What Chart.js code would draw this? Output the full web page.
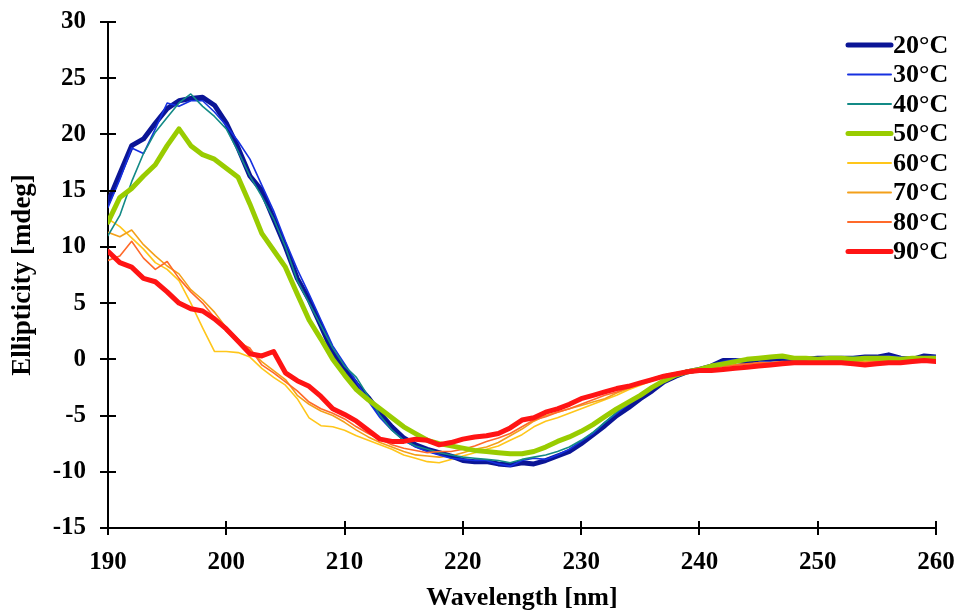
<!DOCTYPE html>
<html>
<head>
<meta charset="utf-8">
<script src="https://cdn.jsdelivr.net/npm/chart.js@4.4.1/dist/chart.umd.min.js"></script>
<style>
  html, body { margin: 0; padding: 0; background: #fff; }
</style>
</head>
<body>
<canvas id="cd" width="956" height="612"></canvas>
<script>
// wavelength grid, nm
var wavelength = [
  190,191,192,193,194,195,196,197,198,199,
  200,201,202,203,204,205,206,207,208,209,
  210,211,212,213,214,215,216,217,218,219,
  220,221,222,223,224,225,226,227,228,229,
  230,231,232,233,234,235,236,237,238,239,
  240,241,242,243,244,245,246,247,248,249,
  250,251,252,253,254,255,256,257,258,259,260
];

var temps = ["20°C", "30°C", "40°C", "50°C", "60°C", "70°C", "80°C", "90°C"];
var colors = ["#0b1596", "#1630e0", "#138a86", "#99cc00", "#ffc61a", "#f3a01a", "#ff6a2a", "#ff1414"];
var widths = [5, 1.6, 1.6, 5, 1.6, 1.6, 1.6, 5];

// ellipticity, mdeg
var t20 = [14.0,16.5,19.0,19.6,21.0,22.3,23.0,23.2,23.3,22.6,
  21.0,18.8,16.3,15.0,12.5,10.0,7.2,5.3,3.0,0.6,
  -0.8,-2.2,-3.4,-4.8,-6.0,-7.0,-7.6,-8.0,-8.3,-8.6,
  -9.0,-9.1,-9.1,-9.3,-9.4,-9.2,-9.3,-9.0,-8.6,-8.2,
  -7.5,-6.7,-5.9,-5.0,-4.3,-3.5,-2.8,-2.0,-1.5,-1.1,
  -0.9,-0.6,-0.1,-0.1,-0.2,0.0,0.0,0.1,0.0,0.0,
  0.1,0.1,0.1,0.1,0.2,0.2,0.4,0.1,0.0,0.3,0.2];
var t30 = [13.5,16.0,18.8,18.3,20.5,22.8,22.5,23.0,23.0,22.0,
  20.8,19.4,17.8,15.5,13.2,10.5,8.0,5.8,3.5,1.2,
  -0.4,-2.0,-3.7,-5.2,-6.3,-7.2,-7.8,-8.2,-8.5,-8.8,
  -8.9,-9.0,-9.0,-9.3,-9.5,-9.0,-8.8,-8.9,-8.5,-8.0,
  -7.3,-6.6,-5.6,-4.8,-4.0,-3.3,-2.6,-2.0,-1.4,-1.1,
  -0.9,-0.5,-0.2,0.0,-0.1,0.0,0.1,0.1,0.0,0.1,
  0.0,0.1,0.2,0.1,0.1,0.2,0.3,0.2,0.1,0.2,0.3];
var t40 = [11.0,12.8,15.8,18.3,20.2,21.5,22.8,23.6,22.5,21.6,
  20.5,18.5,16.3,14.5,12.5,10.0,7.0,5.0,3.0,1.0,
  -0.6,-1.6,-3.3,-5.0,-6.3,-7.2,-7.7,-8.0,-8.3,-8.5,
  -8.7,-8.8,-8.9,-9.0,-9.2,-8.9,-8.7,-8.5,-8.2,-7.8,
  -7.2,-6.5,-5.6,-4.7,-3.9,-3.2,-2.5,-2.0,-1.5,-1.1,
  -0.9,-0.6,-0.3,-0.1,-0.1,0.0,0.1,0.1,0.1,0.0,
  0.1,0.1,0.1,0.2,0.1,0.2,0.2,0.1,0.1,0.2,0.2];
var t50 = [12.2,14.4,15.2,16.3,17.3,19.0,20.5,19.0,18.2,17.8,
  17.0,16.2,13.8,11.2,9.7,8.2,5.8,3.5,1.8,0.0,
  -1.4,-2.7,-3.6,-4.4,-5.2,-6.0,-6.6,-7.2,-7.5,-7.7,
  -7.9,-8.1,-8.2,-8.3,-8.4,-8.4,-8.2,-7.8,-7.3,-6.9,
  -6.4,-5.8,-5.1,-4.4,-3.8,-3.2,-2.5,-1.9,-1.4,-1.1,
  -0.9,-0.6,-0.4,-0.2,0.0,0.1,0.2,0.3,0.1,0.1,
  0.0,0.1,0.1,0.0,0.1,0.1,0.1,0.0,0.1,0.1,0.1];
var t60 = [12.5,11.8,10.8,9.8,8.6,8.0,7.0,5.0,2.8,0.7,
  0.7,0.6,0.2,-0.8,-1.6,-2.3,-3.5,-5.2,-5.9,-6.0,
  -6.3,-6.8,-7.2,-7.6,-8.0,-8.5,-8.8,-9.1,-9.2,-8.9,
  -8.6,-8.3,-8.0,-7.7,-7.2,-6.7,-6.0,-5.5,-5.2,-4.8,
  -4.4,-4.0,-3.6,-3.2,-2.7,-2.3,-1.9,-1.6,-1.3,-1.1,
  -1.0,-0.8,-0.6,-0.5,-0.4,-0.3,-0.3,-0.2,-0.2,-0.2,
  -0.2,-0.2,-0.1,-0.2,-0.2,-0.1,-0.1,-0.1,-0.1,0.0,0.0];
var t70 = [11.3,10.9,11.5,10.2,9.2,8.3,7.6,6.2,5.3,4.2,
  2.8,1.8,0.8,-0.2,-1.0,-1.8,-3.2,-4.0,-4.6,-5.0,
  -5.6,-6.3,-6.9,-7.4,-7.8,-8.2,-8.5,-8.6,-8.7,-8.6,
  -8.3,-8.0,-7.8,-7.4,-6.8,-6.2,-5.5,-5.0,-4.7,-4.4,
  -4.1,-3.8,-3.5,-3.0,-2.6,-2.1,-1.7,-1.4,-1.2,-1.0,
  -1.0,-0.8,-0.6,-0.5,-0.4,-0.4,-0.3,-0.3,-0.2,-0.2,
  -0.2,-0.2,-0.3,-0.2,-0.2,-0.1,-0.1,-0.1,-0.1,0.0,-0.1];
var t80 = [8.8,9.2,10.5,9.0,8.0,8.7,7.2,6.0,5.0,3.7,
  2.5,1.5,1.0,-0.5,-1.2,-2.0,-2.8,-3.8,-4.4,-4.8,
  -5.3,-6.0,-6.6,-7.1,-7.6,-7.9,-8.1,-8.3,-8.2,-8.2,
  -8.0,-7.7,-7.3,-7.0,-6.6,-6.0,-5.4,-5.1,-4.7,-4.4,
  -4.0,-3.6,-3.2,-2.9,-2.5,-2.1,-1.7,-1.4,-1.2,-1.0,
  -0.9,-0.8,-0.6,-0.5,-0.4,-0.3,-0.3,-0.2,-0.2,-0.2,
  -0.2,-0.2,-0.2,-0.2,-0.3,-0.2,-0.1,-0.1,-0.1,-0.1,-0.1];
var t90 = [9.6,8.6,8.2,7.2,6.9,6.0,5.0,4.5,4.3,3.6,
  2.7,1.6,0.5,0.3,0.7,-1.2,-1.9,-2.4,-3.3,-4.4,
  -4.9,-5.5,-6.3,-7.1,-7.3,-7.3,-7.1,-7.2,-7.6,-7.4,
  -7.1,-6.9,-6.8,-6.6,-6.1,-5.4,-5.2,-4.7,-4.4,-4.0,
  -3.5,-3.2,-2.9,-2.6,-2.4,-2.1,-1.8,-1.5,-1.3,-1.1,
  -1.0,-1.0,-0.9,-0.8,-0.7,-0.6,-0.5,-0.4,-0.3,-0.3,
  -0.3,-0.3,-0.3,-0.4,-0.5,-0.4,-0.3,-0.3,-0.2,-0.1,-0.2];

var series = [t20, t30, t40, t50, t60, t70, t80, t90];
var drawOrder = [5, 4, 3, 1, 7, 6, 2, 0]; // lower = on top

var FONT = "'Liberation Serif', 'Times New Roman', serif";

var datasets = series.map(function(vals, i) {
  return {
    label: temps[i],
    data: vals.map(function(v, j) { return { x: wavelength[j], y: v }; }),
    borderColor: colors[i],
    backgroundColor: colors[i],
    borderWidth: widths[i],
    pointRadius: 0,
    tension: 0,
    borderJoinStyle: 'round',
    borderCapStyle: 'round',
    order: drawOrder[i]
  };
});

// tick marks that cross the axis lines, like the original
var crossTicks = {
  id: 'crossTicks',
  afterDraw: function(chart) {
    var ctx = chart.ctx, xs = chart.scales.x, ys = chart.scales.y;
    var area = chart.chartArea;
    ctx.save();
    ctx.strokeStyle = '#000';
    ctx.lineWidth = 2;
    ctx.beginPath();
    ys.ticks.forEach(function(t) {
      var py = Math.round(ys.getPixelForValue(t.value));
      ctx.moveTo(area.left - 8, py);
      ctx.lineTo(area.left + 8, py);
    });
    xs.ticks.forEach(function(t) {
      var px = Math.round(xs.getPixelForValue(t.value));
      ctx.moveTo(px, area.bottom - 7);
      ctx.lineTo(px, area.bottom + 7);
    });
    ctx.stroke();
    ctx.restore();
  }
};

// legend in the top right corner of the plot
var cornerLegend = {
  id: 'cornerLegend',
  afterDraw: function(chart) {
    var ctx = chart.ctx, area = chart.chartArea;
    ctx.save();
    ctx.font = "bold 26px " + FONT;
    ctx.textBaseline = 'middle';
    ctx.textAlign = 'left';
    chart.data.datasets.forEach(function(ds, i) {
      var y = area.top + 23 + i * 29.5;
      ctx.strokeStyle = ds.borderColor;
      ctx.lineWidth = ds.borderWidth < 3 ? 2 : 5;
      ctx.lineCap = 'round';
      ctx.beginPath();
      ctx.moveTo(area.right - 88, y);
      ctx.lineTo(area.right - 45, y);
      ctx.stroke();
      ctx.fillStyle = '#000';
      ctx.fillText(ds.label, area.right - 43, y + 1);
    });
    ctx.restore();
  }
};

new Chart(document.getElementById('cd'), {
  type: 'line',
  data: { datasets: datasets },
  plugins: [crossTicks, cornerLegend],
  options: {
    responsive: false,
    animation: false,
    layout: { padding: { top: 22, right: 20, bottom: 0, left: 0 } },
    plugins: {
      legend: { display: false },
      tooltip: { enabled: false }
    },
    scales: {
      x: {
        type: 'linear',
        min: 190,
        max: 260,
        grid: { display: false, drawTicks: false },
        border: { display: true, color: '#000', width: 2 },
        ticks: {
          stepSize: 10,
          color: '#000',
          padding: 20,
          font: { family: FONT, size: 25, weight: 'bold' }
        },
        title: {
          display: true,
          text: 'Wavelength [nm]',
          color: '#000',
          padding: { top: 0, bottom: 1 },
          font: { family: FONT, size: 26, weight: 'bold', lineHeight: 1 }
        },
        afterFit: function(s) {
          s.height = 84;
          s.paddingLeft = 0;
          s.paddingRight = 0;
        }
      },
      y: {
        min: -15,
        max: 30,
        grid: { display: false, drawTicks: false },
        border: { display: true, color: '#000', width: 2 },
        ticks: {
          stepSize: 5,
          color: '#000',
          padding: 22,
          font: { family: FONT, size: 25, weight: 'bold' }
        },
        title: {
          display: true,
          text: 'Ellipticity [mdeg]',
          color: '#000',
          padding: { top: 10, bottom: 0 },
          font: { family: FONT, size: 27, weight: 'bold', lineHeight: 1 }
        },
        afterFit: function(s) {
          s.width = 108;
          s.paddingTop = 0;
          s.paddingBottom = 0;
        }
      }
    }
  }
});
</script>
</body>
</html>
